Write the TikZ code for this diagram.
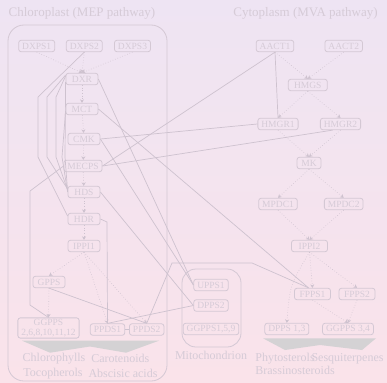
\documentclass[tikz,border=0pt]{standalone}
\usepackage{fontspec}
\setmainfont{Liberation Serif}
\usetikzlibrary{arrows.meta}
\definecolor{bgtop}{RGB}{238,228,243}
\definecolor{bgbot}{RGB}{250,227,234}
\definecolor{boxcol}{RGB}{212,200,212}
\definecolor{lncol}{RGB}{206,194,207}
\definecolor{txtcol}{RGB}{214,203,215}
\definecolor{fancol}{RGB}{212,210,212}

\begin{document}
\begin{tikzpicture}[x=1pt,y=-1pt]
\tikzset{
gene/.style={draw=boxcol,rounded corners=2.5pt,text=txtcol,font=\fontsize{9.5}{9.5}\selectfont,minimum height=11.5pt,minimum width=32pt,inner xsep=3.5pt,inner ysep=1.5pt,line width=0.8pt},
flow/.style={draw=lncol,dotted,line width=0.6pt,-{Stealth[length=3.5pt,width=4pt]}},
link/.style={draw=lncol,line width=0.7pt},
compart/.style={draw=boxcol,rounded corners=16pt,line width=0.8pt},
title/.style={text=txtcol,font=\fontsize{13}{13}\selectfont},
product/.style={text=txtcol,font=\fontsize{12}{12}\selectfont},
fan/.style={fill=fancol,draw=none}
}
\shade[top color=bgtop,bottom color=bgbot] (0,0) rectangle (387,382);
\useasboundingbox (0,0) rectangle (387,382);
\draw[compart] (8,25) rectangle (167,381);
\draw[compart,rounded corners=14pt] (182,269) rectangle (241,347);
\node[title] (tchl) at (82,13.5) {Chloroplast (MEP pathway)};
\node[title] (tcyt) at (305.5,13.5) {Cytoplasm (MVA pathway)};
\node[gene] (dxps1) at (36.7,46) {DXPS1};
\node[gene] (dxps2) at (84.3,46) {DXPS2};
\node[gene] (dxps3) at (132.5,46) {DXPS3};
\node[gene] (dxr) at (82,79) {DXR};
\node[gene] (mct) at (82,109) {MCT};
\node[gene] (cmk) at (84,139) {CMK};
\node[gene] (mecps) at (83,166) {MECPS};
\node[gene] (hds) at (84,192) {HDS};
\node[gene] (hdr) at (84,219) {HDR};
\node[gene] (ippi1) at (84,246) {IPPI1};
\node[gene] (gpps) at (49,282) {GPPS};
\node[gene,align=center] (ggpps) at (48.5,328) {GGPPS\\2,6,8,10,11,12};
\node[gene] (ppds1) at (107.5,329.5) {PPDS1};
\node[gene] (ppds2) at (146.7,329.5) {PPDS2};
\node[gene] (upps1) at (211,285) {UPPS1};
\node[gene] (dpps2) at (211,305.5) {DPPS2};
\node[gene] (ggpps159) at (211,329) {GGPPS1,5,9};
\node[gene] (aact1) at (275,46) {AACT1};
\node[gene] (aact2) at (343.7,46) {AACT2};
\node[gene,minimum width=39pt] (hmgs) at (307.8,85) {HMGS};
\node[gene] (hmgr1) at (278,124) {HMGR1};
\node[gene] (hmgr2) at (340.5,124) {HMGR2};
\node[gene,minimum width=24pt] (mk) at (309,163) {MK};
\node[gene] (mpdc1) at (278,204) {MPDC1};
\node[gene] (mpdc2) at (343.7,204) {MPDC2};
\node[gene,minimum width=36pt] (ippi2) at (309.5,246) {IPPI2};
\node[gene,minimum width=36pt] (fpps1) at (312.5,294) {FPPS1};
\node[gene,minimum width=36pt] (fpps2) at (357,294) {FPPS2};
\node[gene] (dpps13) at (286.8,329) {DPPS 1,3};
\node[gene] (ggpps34) at (348,329) {GGPPS 3,4};
\fill[fan] (22,340.7) -- (159,340.7) -- (126,352.7) -- (90,346.5) -- (50,352.7) -- cycle;
\fill[fan] (263,338.3) -- (376,338.3) -- (362,350) -- (320,345) -- (285,350) -- cycle;
\node[product] (chl) at (54,358.3) {Chlorophylls};
\node[product] (car) at (120.3,358.3) {Carotenoids};
\node[product] (toc) at (53,373.3) {Tocopherols};
\node[product] (aba) at (123,373.3) {Abscisic acids};
\node[product] (mito) at (211,355) {Mitochondrion};
\node[product] (phy) at (285,358.3) {Phytosterols};
\node[product] (ses) at (347.5,358.3) {Sesquiterpenes};
\node[product,anchor=west] (bra) at (phy.west |- 0,370.3) {Brassinosteroids};
\draw[flow] (dxps1.south) -- (dxr.north);
\draw[flow] (dxps2.south) -- (dxr.north);
\draw[flow] (dxps3.south) -- (dxr.north);
\draw[flow] (dxr) -- (mct);
\draw[flow] (mct) -- (cmk);
\draw[flow] (cmk) -- (mecps);
\draw[flow] (mecps) -- (hds);
\draw[flow] (hds) -- (hdr);
\draw[flow] (hdr) -- (ippi1);
\draw[flow] (ippi1.south) -- (gpps.north);
\draw[flow] (ippi1.south) -- (ppds1.north);
\draw[flow] (ippi1.south) -- (ppds2.north);
\draw[flow] (gpps.south) -- (ggpps.north);
\draw[flow] (aact1.south) -- (hmgs.north);
\draw[flow] (aact2.south) -- (hmgs.north);
\draw[flow] (hmgs.south) -- (hmgr1.north);
\draw[flow] (hmgs.south) -- (hmgr2.north);
\draw[flow] (hmgr1.south) -- (mk.north);
\draw[flow] (hmgr2.south) -- (mk.north);
\draw[flow] (mk.south) -- (mpdc1.north);
\draw[flow] (mk.south) -- (mpdc2.north);
\draw[flow] (mpdc1.south) -- (ippi2.north);
\draw[flow] (mpdc2.south) -- (ippi2.north);
\draw[flow] (ippi2.south) -- (fpps1.north);
\draw[flow] (ippi2.south) -- (fpps2.north);
\draw[flow] (ippi2.south) .. controls (290,285) .. (dpps13.north);
\draw[flow] (fpps1.south) -- (ggpps34.north);
\draw[flow] (fpps2.south) -- (ggpps34.north);
\draw[link] (dxps2.south) -- (38,97) -- (38,157) -- ([yshift=3pt]hdr.west);
\draw[link] ([yshift=4pt]dxr.west) -- (47,97) -- (47,157) -- ([yshift=3pt]hds.west);
\draw[link] ([yshift=3pt]dxr.west) -- (56,97) -- (56,157) -- ([yshift=2pt]hds.west);
\draw[link] ([yshift=-3pt]dxr.west) -- (65,157) -- ([yshift=1pt]hds.west);
\draw[link] ([yshift=-2pt]mct.west) -- (62,157) -- (hds.west);
\draw[link] (dxr.east) -- (upps1.west);
\draw[link] (mct.east) -- ([xshift=-4pt]fpps1.north);
\draw[link] (cmk.east) -- (hmgr1.west);
\draw[link] (cmk.east) -- (upps1.west);
\draw[link] (mecps.east) -- (aact1.south);
\draw[link] (mecps.east) -- ([xshift=-8pt]hmgr2.south);
\draw[link] (mecps.west) -- (30,191) -- (30,305) -- (ggpps.north);
\draw[link] (hds.east) -- (dpps2.west);
\draw[link] (hdr.east) -- (107,222) -- (ppds1.north);
\draw[link] (gpps.south) -- (ppds2.north);
\draw[link] (ppds2.north) -- (172,263) -- (252,263) -- ([xshift=-4pt]fpps1.north);
\draw[link] (dpps2.west) -- (ppds1.north);
\draw[link] (aact1.south) -- (hmgr1.north);
\draw[link] (ppds1) -- (ppds2);
\end{tikzpicture}
\end{document}
